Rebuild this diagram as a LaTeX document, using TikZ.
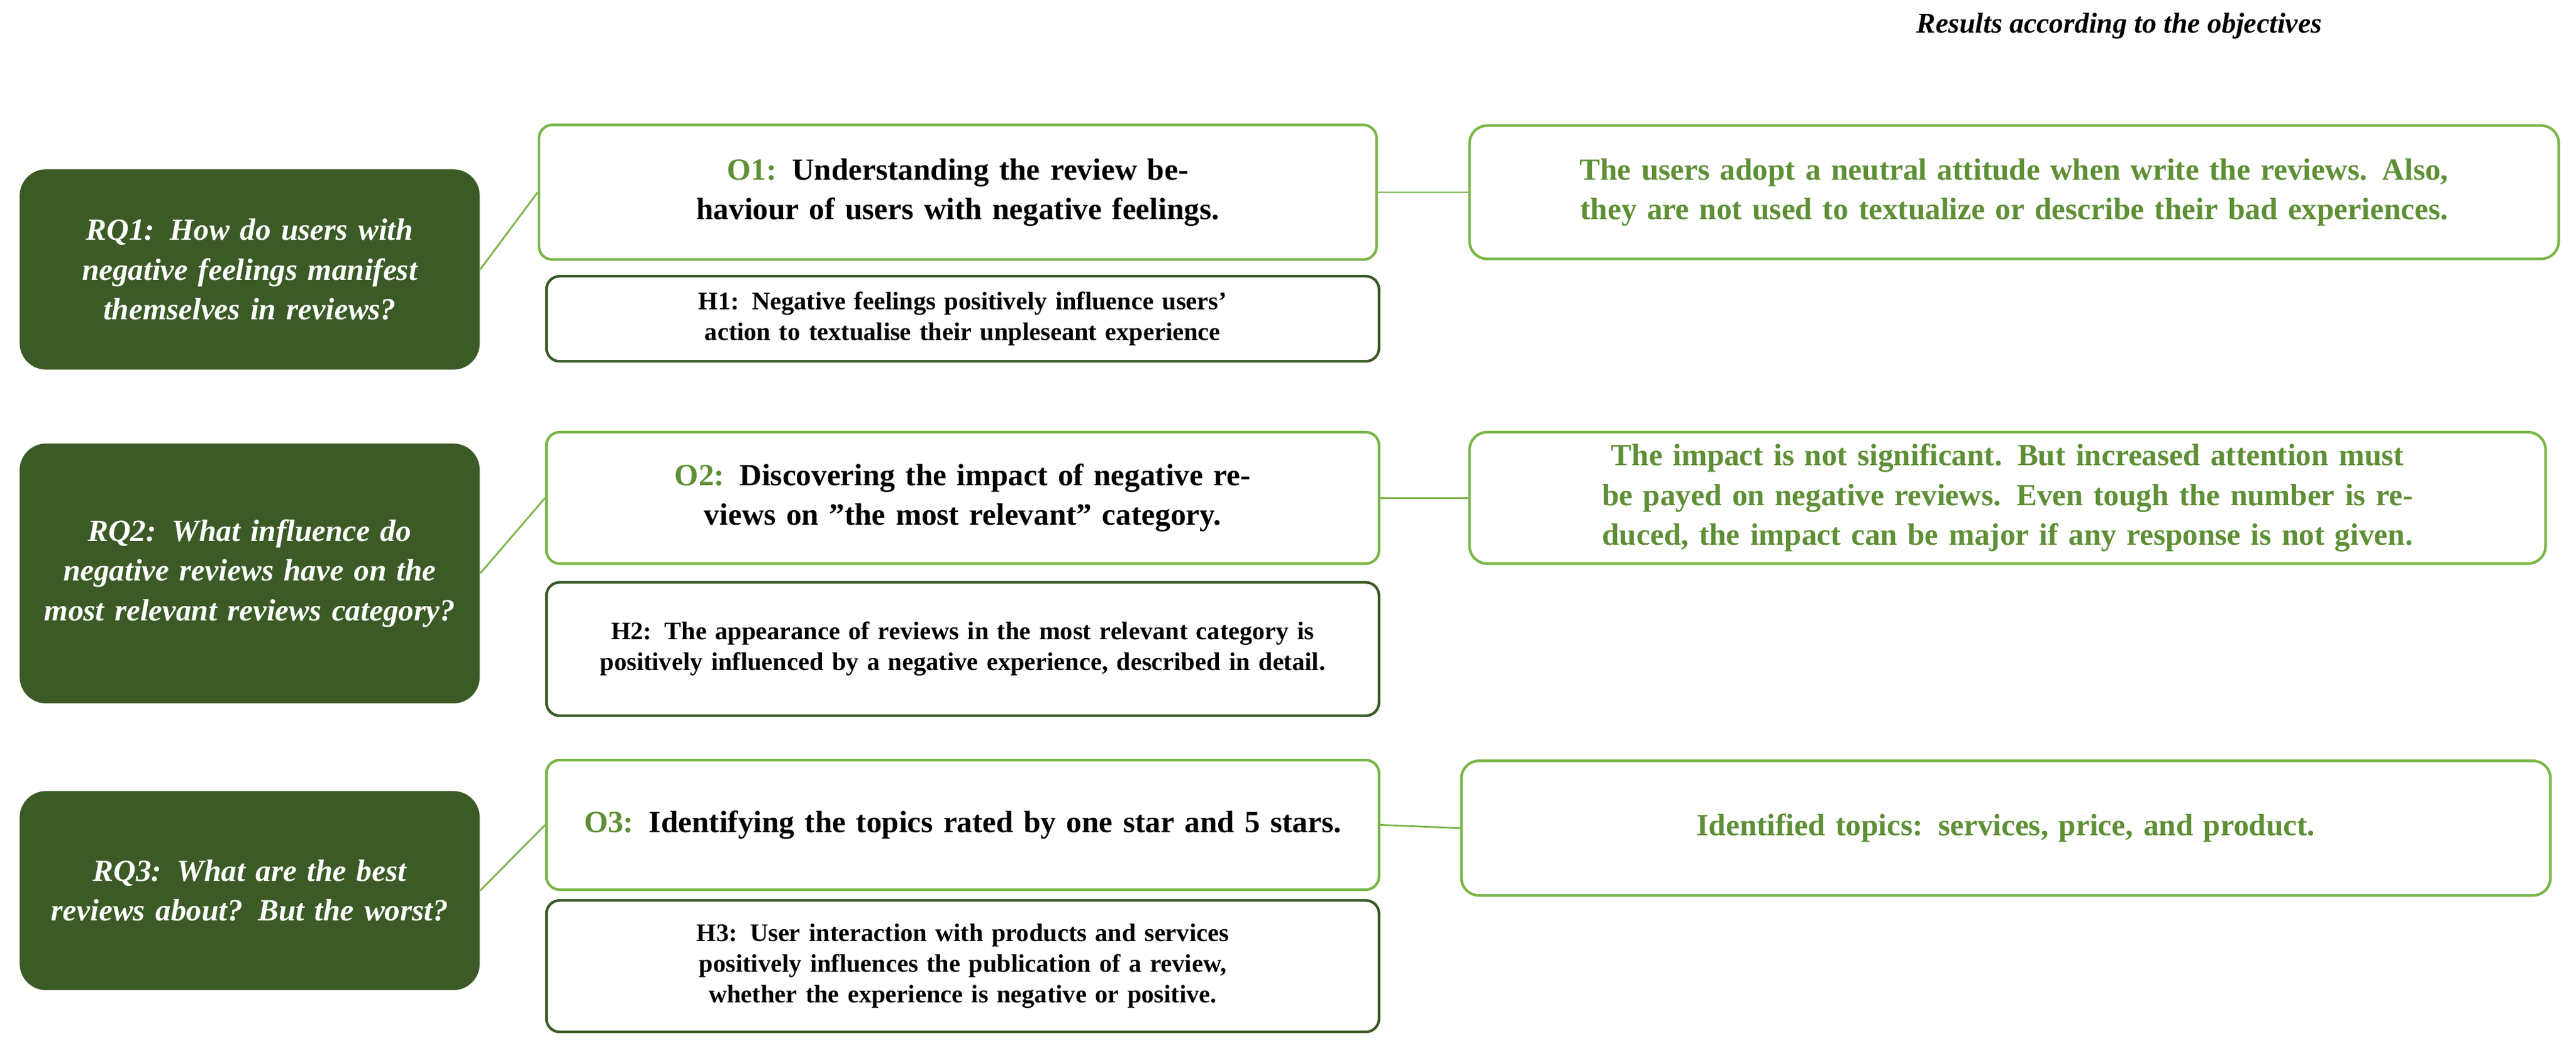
\documentclass[tikz,border=0pt]{standalone}
\usepackage{fontspec}
\setmainfont{Liberation Serif}
\definecolor{darkgr}{HTML}{3B5A26}
\definecolor{lightgr}{HTML}{7AB648}
\definecolor{textgr}{HTML}{5E8F35}
\tikzset{
  rq/.style={rectangle,rounded corners=12pt,fill=darkgr,text=white,font=\bfseries\itshape\fontsize{14}{18}\selectfont,align=center,minimum width=7.35cm,text width=6.6cm},
  obj/.style={rectangle,rounded corners=6pt,draw=lightgr,line width=1.2pt,fill=white,font=\bfseries\fontsize{14}{18}\selectfont,align=center,minimum width=13.3cm,text width=12.4cm},
  hyp/.style={rectangle,rounded corners=6pt,draw=darkgr,line width=1.2pt,fill=white,font=\bfseries\fontsize{11.5}{14}\selectfont,align=center,minimum width=13.3cm,text width=12.2cm},
  res/.style={rectangle,rounded corners=8pt,draw=lightgr,line width=1.2pt,fill=white,text=textgr,font=\bfseries\fontsize{14}{18}\selectfont,align=center,minimum width=17.4cm,text width=16.6cm},
  link/.style={lightgr,line width=0.8pt}
}
\begin{document}
\begin{tikzpicture}[x=0.02624cm,y=-0.02624cm]
\useasboundingbox (0,0) rectangle (1568,639);

\node[font=\bfseries\itshape\fontsize{13}{16}\selectfont] (title) at (1290,16) {Results according to the objectives};

% research questions
\node[rq,minimum height=3.2cm] (rq1) at (152,164) {RQ1: How do users with negative feelings manifest themselves in reviews?};
\node[rq,minimum height=4.15cm] (rq2) at (152,349) {RQ2: What influence do negative reviews have on the most relevant reviews category?};
\node[rq,minimum height=3.18cm] (rq3) at (152,542) {RQ3: What are the best reviews about? But the worst?};

% objectives and hypotheses
\node[obj,minimum width=13.38cm,minimum height=2.15cm] (o1) at (583,117) {\textcolor{textgr}{O1:} Understanding the review behaviour of users with negative feelings.};
\node[hyp,minimum height=1.36cm] (h1) at (586,194) {H1: Negative feelings positively influence users’ action to textualise their unpleseant experience};
\node[obj,minimum height=2.1cm] (o2) at (586,303) {\textcolor{textgr}{O2:} Discovering the impact of negative reviews on ”the most relevant” category.};
\node[hyp,minimum height=2.13cm] (h2) at (586,395) {H2: The appearance of reviews in the most relevant category is positively influenced by a negative experience, described in detail.};
\node[obj,minimum height=2.07cm] (o3) at (586,502) {\textcolor{textgr}{O3:} Identifying the topics rated by one star and 5 stars.};
\node[hyp,minimum height=2.1cm] (h3) at (586,588) {H3: User interaction with products and services positively influences the publication of a review, whether the experience is negative or positive.};

% results
\node[res,minimum height=2.13cm] (r1) at (1226,117) {The users adopt a neutral attitude when write the reviews. Also, they are not used to textualize or describe their bad experiences.};
\node[res,minimum width=17.19cm,minimum height=2.1cm] (r2) at (1222,303) {The impact is not significant. But increased attention must be payed on negative reviews. Even tough the number is reduced, the impact can be major if any response is not given.};
\node[res,minimum height=2.15cm] (r3) at (1221,504) {Identified topics: services, price, and product.};

\draw[link] (rq1.east) -- (o1.west);
\draw[link] (rq2.east) -- (o2.west);
\draw[link] (rq3.east) -- (o3.west);
\draw[link] (o1.east) -- (r1.west);
\draw[link] (o2.east) -- (r2.west);
\draw[link] (o3.east) -- (r3.west);
\end{tikzpicture}
\end{document}
